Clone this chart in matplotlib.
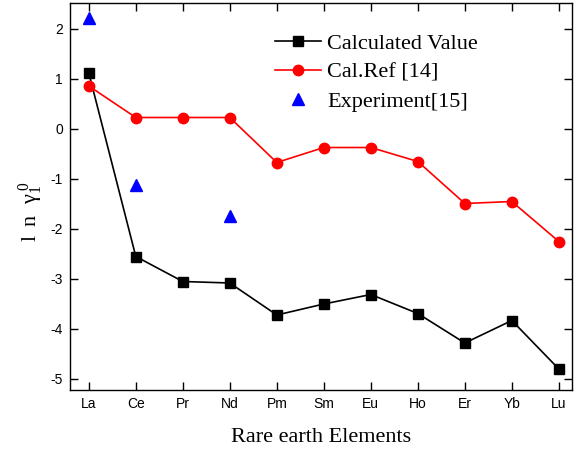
import matplotlib
matplotlib.use("Agg")
import matplotlib.pyplot as plt

plt.rcParams["axes.unicode_minus"] = False

elements = ["La", "Ce", "Pr", "Nd", "Pm", "Sm", "Eu", "Ho", "Er", "Yb", "Lu"]
calculated = [1.12, -2.55, -3.05, -3.08, -3.72, -3.50, -3.31, -3.69, -4.28, -3.83, -4.80]
cal_ref = [0.86, 0.23, 0.23, 0.23, -0.67, -0.37, -0.37, -0.65, -1.49, -1.45, -2.25]
exp_elements = ["La", "Ce", "Nd"]
experiment = [2.22, -1.12, -1.74]

x = list(range(len(elements)))
exp_x = [elements.index(e) for e in exp_elements]

fig = plt.figure(figsize=(5.78, 4.53), dpi=100)
ax = fig.add_axes([70/578, 1-390/453, (572-70)/578, (390-3)/453])

ax.plot(x, calculated, color="black", lw=1.2, marker="s", ms=7, label="Calculated Value")
ax.plot(x, cal_ref, color="red", lw=1.2, marker="o", ms=7.5, label="Cal.Ref [14]")
ax.plot(exp_x, experiment, ls="none", color="blue", marker="^", ms=8.5, label="Experiment[15]")

ax.set_xlim(-0.40, 10.28)
ax.set_ylim(-5.22, 2.52)
ax.set_xticks(x)
ax.set_xticklabels(elements)
ax.set_yticks(range(-5, 3))
for lab in ax.get_xticklabels() + ax.get_yticklabels():
    lab.set_family("Liberation Sans")
    lab.set_fontsize(10)
ax.tick_params(direction="in", top=True, right=True, length=6, width=1, pad=5,
               labelright=False, labeltop=False)
for s in ax.spines.values():
    s.set_linewidth(1.0)

ax.set_xlabel("Rare earth Elements", family="Liberation Serif", fontsize=16, labelpad=12)
ax.set_ylabel(r"$\mathregular{l\;\,n\;\;\gamma_{1}^{\,0}}$", family="Liberation Serif",
              fontsize=16, labelpad=4)
ax.yaxis.label.set_y(0.46)

leg = ax.legend(loc="upper left", bbox_to_anchor=(0.39, 0.945), frameon=False,
                prop={"family": "Liberation Serif", "size": 16},
                handlelength=2.1, handletextpad=0.27, labelspacing=0.38, borderaxespad=0)

fig.savefig("out.png", dpi=100)
